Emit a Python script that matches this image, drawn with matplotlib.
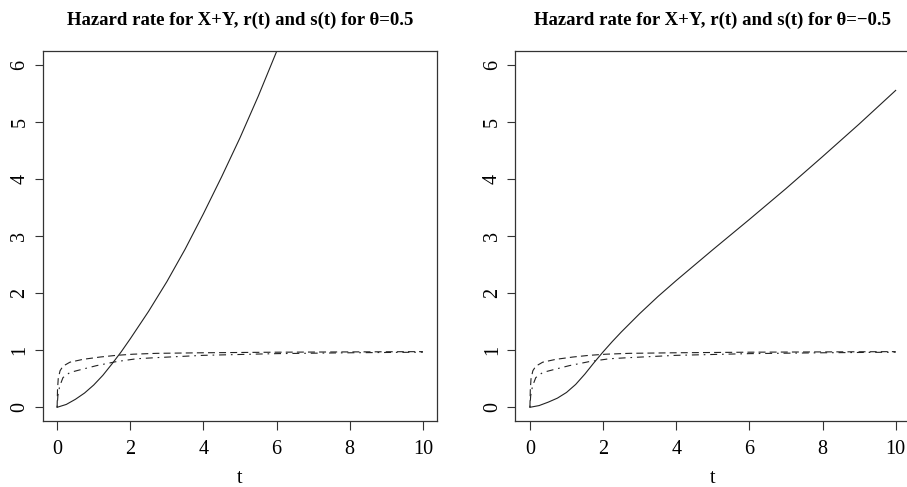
import matplotlib
matplotlib.use("Agg")
import matplotlib.pyplot as plt

# ---- data ----
t_left = [0, 0.25, 0.5, 0.75, 1.0, 1.25, 1.5, 1.75, 2.0, 2.5, 3.0, 3.5, 4.0, 4.5, 5.0, 5.5, 6.0, 6.5]
h_left = [0, 0.05, 0.14, 0.25, 0.39, 0.56, 0.76, 0.97, 1.20, 1.68, 2.20, 2.77, 3.39, 4.04, 4.72, 5.45, 6.23, 7.00]

t_right = [0, 0.25, 0.5, 0.75, 1.0, 1.25, 1.5, 1.75, 2.0, 2.25, 2.5, 3.0, 3.5, 4.0, 5.0, 6.0, 7.0, 8.0, 9.0, 10.0]
h_right = [0, 0.03, 0.09, 0.16, 0.26, 0.40, 0.58, 0.78, 0.97, 1.15, 1.32, 1.64, 1.94, 2.22, 2.76, 3.29, 3.83, 4.39, 4.96, 5.55]

t_s = [0, 0.01, 0.03, 0.08, 0.16, 0.35, 0.71, 1.17, 1.62, 2.08, 2.72, 4, 6, 8, 10]
s_vals = [0, 0.30, 0.50, 0.64, 0.72, 0.79, 0.84, 0.88, 0.91, 0.93, 0.945, 0.955, 0.965, 0.97, 0.975]

t_r = [0, 0.02, 0.07, 0.16, 0.35, 0.71, 1.08, 1.62, 2.17, 2.72, 4, 6, 8, 10]
r_vals = [0, 0.20, 0.37, 0.52, 0.61, 0.67, 0.73, 0.80, 0.85, 0.87, 0.91, 0.94, 0.955, 0.965]

titles = ["Hazard rate for X+Y, r(t) and s(t) for \u03b8=0.5",
          "Hazard rate for X+Y, r(t) and s(t) for \u03b8=\u22120.5"]
x_ticks = [0, 2, 4, 6, 8, 10]
y_ticks = [0, 1, 2, 3, 4, 5, 6]
xlabel = "t"

plt.rcParams['font.family'] = ['Liberation Serif', 'DejaVu Serif']
plt.rcParams['lines.scale_dashes'] = False

W, H = 907, 487
fig = plt.figure(figsize=(W / 100, H / 100), dpi=100)

ax_w = 395 / W
ax_h = 370 / H
bottom = 66 / H
lefts = [42.5 / W, 515.3 / W]

lc = '#222222'
for i, (tt, hh) in enumerate([(t_left, h_left), (t_right, h_right)]):
    ax = fig.add_axes([lefts[i], bottom, ax_w, ax_h])
    ax.plot(tt, hh, color=lc, lw=0.8, solid_joinstyle='round')
    ax.plot(t_s, s_vals, color=lc, lw=0.8, dashes=(5, 3))
    ax.plot(t_r, r_vals, color=lc, lw=0.8, dashes=(1.2, 3.5, 5, 3.5))
    ax.set_xlim(-0.4, 10.4)
    ax.set_ylim(-0.24, 6.24)
    ax.set_xticks(x_ticks)
    ax.set_xticklabels([str(v) for v in x_ticks])
    ax.set_yticks(y_ticks)
    ax.set_yticklabels([str(v) for v in y_ticks], rotation=90, va='center')
    ax.tick_params(axis='x', length=6.5, width=0.8, color='#333333', labelsize=14.5, pad=7.5)
    ax.tick_params(axis='y', length=6.0, width=0.8, color='#333333', labelsize=14.5, pad=3.5)
    for sp in ax.spines.values():
        sp.set_color('#333333')
        sp.set_linewidth(0.9)
    ax.set_xlabel(xlabel, fontsize=14.5, labelpad=7)
    ax.set_title(titles[i], fontsize=13.5, fontweight='bold', pad=18.5)

fig.savefig("out.png", dpi=100)
